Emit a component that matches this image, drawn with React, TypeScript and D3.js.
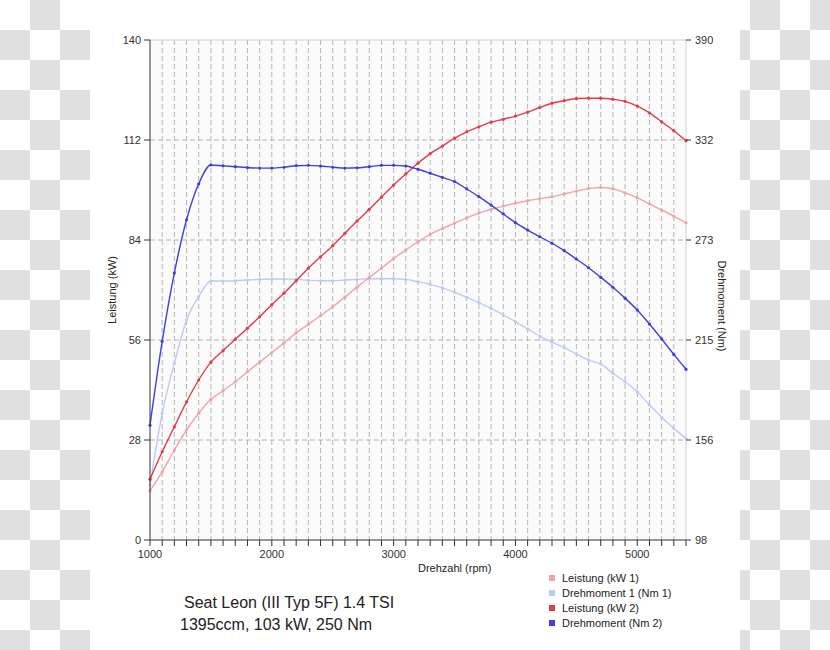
import React from "react";
import * as d3 from "d3";

const rpm = [1000,1100,1200,1300,1400,1500,1600,1700,1800,1900,2000,2100,2200,2300,2400,2500,2600,2700,2800,2900,3000,3100,3200,3300,3400,3500,3600,3700,3800,3900,4000,4100,4200,4300,4400,4500,4600,4700,4800,4900,5000,5100,5200,5300,5400];

const kw1 = [13.8,19.1,25.2,30.8,35.5,39.4,41.8,44.3,47.1,49.8,52.5,55.2,58.0,60.4,62.8,65.3,68.0,70.8,73.5,76.1,78.8,81.2,83.5,85.6,87.2,88.7,90.2,91.5,92.6,93.5,94.3,95.0,95.6,96.1,96.9,97.7,98.4,98.7,98.3,97.2,95.8,94.1,92.4,90.7,88.8];

const kw2 = [17.0,24.7,31.7,38.7,44.8,49.8,53.0,56.2,59.3,62.5,65.9,69.1,72.6,76.1,79.3,82.4,85.9,89.3,92.6,96.0,99.4,102.5,105.5,108.2,110.3,112.5,114.3,115.7,117.0,117.8,118.7,119.8,121.1,122.3,123.0,123.6,123.7,123.7,123.4,122.8,121.5,119.6,117.1,114.6,111.8];

const nm1 = [130.1,172,201.2,226.5,240.1,249.3,249.2,249.4,249.8,250.2,250.4,250.4,250.2,249.7,249.4,249.4,249.8,250.2,250.6,250.6,250.6,250.2,248.8,247.3,245.2,242.7,239.7,236.6,233.3,229.4,225.5,221.2,217.1,213.6,210.3,206.6,203.1,200.8,195.4,190.4,184.6,176.8,169.7,163.2,157.4];

const nm2 = [165,214,254,285,306,317,316.5,316,315.5,315.2,315.2,315.7,316.6,316.8,316.4,315.7,315.2,315.4,316,316.8,316.8,316.4,314.5,312.2,309.8,307.3,303.0,298.5,293.6,288.4,283.3,279.0,275.1,271.3,267.0,262.1,257.0,251.4,245.6,239.2,232.3,224.1,215.4,206.4,197.7];

const leftTicks = [0, 28, 56, 84, 112, 140];
const rightTicks = [98, 156.4, 214.8, 273.2, 331.6, 390];
const xLabelTicks = [1000, 2000, 3000, 4000, 5000];

const legendLabels = ["Leistung (kW 1)", "Drehmoment 1 (Nm 1)", "Leistung (kW 2)", "Drehmoment (Nm 2)"];
const titleLines = ["Seat Leon (III Typ 5F) 1.4 TSI", "1395ccm, 103 kW, 250 Nm"];

const COLORS = {
  kw1: "#f0a4aa",
  nm1: "#bfcaf4",
  kw2: "#e23c48",
  nm2: "#3f3fdc",
};

const FONT = "'Liberation Sans', Arial, sans-serif";

export default function App() {
  const W = 830, H = 650;
  const x = d3.scaleLinear().domain([1000, 5400]).range([150, 686]);
  const yL = d3.scaleLinear().domain([0, 140]).range([540, 40]);
  const yR = d3.scaleLinear().domain([98, 390]).range([540, 40]);
  const fmt = d3.format(".0f");

  const lineL = d3.line<number>().x((_, i) => x(rpm[i])).y((d) => yL(d)).curve(d3.curveMonotoneX);
  const lineR = d3.line<number>().x((_, i) => x(rpm[i])).y((d) => yR(d)).curve(d3.curveMonotoneX);

  const series = [
    { data: nm1, color: COLORS.nm1, axis: "R" },
    { data: kw1, color: COLORS.kw1, axis: "L" },
    { data: kw2, color: COLORS.kw2, axis: "L" },
    { data: nm2, color: COLORS.nm2, axis: "R" },
  ];

  const legendColors = [COLORS.kw1, COLORS.nm1, COLORS.kw2, COLORS.nm2];
  const minorTicks = d3.range(1000, 5401, 100);

  return (
    <svg width={W} height={H} style={{ position: "absolute", left: 0, top: 0 }} fontFamily={FONT}>
      <defs>
        <pattern id="checker" width={60} height={60} patternUnits="userSpaceOnUse">
          <rect x={0} y={0} width={60} height={60} fill="#ffffff" />
          <rect x={30} y={0} width={30} height={30} fill="#e0e0e0" />
          <rect x={0} y={30} width={30} height={30} fill="#e0e0e0" />
        </pattern>
      </defs>
      <rect x={0} y={0} width={W} height={H} fill="url(#checker)" />
      <rect x={90} y={0} width={650} height={H} fill="#ffffff" />

      {/* plot background */}
      <rect x={x(1000)} y={yL(140)} width={x(5400) - x(1000)} height={yL(0) - yL(140)} fill="#fbfbfb" />

      {/* vertical grid */}
      {minorTicks.slice(1, -1).map((r) => (
        <line key={"vg" + r} x1={x(r)} x2={x(r)} y1={yL(140)} y2={yL(0)} stroke="#b4b4b4" strokeDasharray="5,3" strokeWidth={1} />
      ))}
      {/* horizontal grid */}
      {leftTicks.slice(1, -1).map((t) => (
        <line key={"hg" + t} x1={x(1000)} x2={x(5400)} y1={yL(t)} y2={yL(t)} stroke="#b4b4b4" strokeDasharray="5,3" strokeWidth={1} />
      ))}
      {/* top and right border */}
      <line x1={x(1000)} x2={x(5400)} y1={yL(140)} y2={yL(140)} stroke="#d0d0d0" />
      <line x1={x(5400)} x2={x(5400)} y1={yL(140)} y2={yL(0)} stroke="#d0d0d0" />

      {/* series */}
      {series.map((s, si) => (
        <g key={"s" + si}>
          <path d={(s.axis === "L" ? lineL : lineR)(s.data) || ""} fill="none" stroke={s.color} strokeWidth={1.4} />
          {s.data.map((v, i) => (
            <circle key={i} cx={x(rpm[i])} cy={s.axis === "L" ? yL(v) : yR(v)} r={1.6} fill={s.color} />
          ))}
        </g>
      ))}

      {/* left axis */}
      <line x1={x(1000)} x2={x(1000)} y1={yL(140)} y2={yL(0)} stroke="#333" />
      {leftTicks.map((t) => (
        <g key={"lt" + t}>
          <line x1={x(1000) - 6} x2={x(1000)} y1={yL(t)} y2={yL(t)} stroke="#333" />
          <text x={x(1000) - 9} y={yL(t) + 4} textAnchor="end" fontSize={11} fill="#333">{fmt(t)}</text>
        </g>
      ))}
      {/* right axis */}
      {rightTicks.map((t) => (
        <g key={"rt" + t}>
          <line x1={x(5400)} x2={x(5400) + 5} y1={yR(t)} y2={yR(t)} stroke="#333" />
          <text x={x(5400) + 9} y={yR(t) + 4} textAnchor="start" fontSize={11} fill="#333">{fmt(t)}</text>
        </g>
      ))}
      {/* bottom axis */}
      <line x1={x(1000)} x2={x(5400)} y1={yL(0)} y2={yL(0)} stroke="#333" />
      {minorTicks.map((r) => (
        <line key={"bt" + r} x1={x(r)} x2={x(r)} y1={yL(0)} y2={yL(0) + 6} stroke="#333" />
      ))}
      {xLabelTicks.map((r) => (
        <text key={"bl" + r} x={x(r)} y={yL(0) + 18} textAnchor="middle" fontSize={11} fill="#333">{r}</text>
      ))}

      {/* axis titles */}
      <text x={418} y={572} fontSize={11} fill="#222">Drehzahl (rpm)</text>
      <text transform={`translate(116, ${(yL(0) + yL(140)) / 2}) rotate(-90)`} textAnchor="middle" fontSize={11} fill="#222">Leistung (kW)</text>
      <text transform={`translate(718, 306) rotate(90)`} textAnchor="middle" fontSize={11} fill="#222">Drehmoment (Nm)</text>

      {/* legend */}
      {legendLabels.map((l, i) => (
        <g key={"lg" + i}>
          <rect x={549} y={575 + i * 15} width={6} height={6} fill={legendColors[i]} />
          <text x={562} y={582 + i * 15} fontSize={11} fill="#222">{l}</text>
        </g>
      ))}

      {/* title */}
      <text x={184} y={608} fontSize={16} fill="#222">{titleLines[0]}</text>
      <text x={180} y={630} fontSize={16} fill="#222">{titleLines[1]}</text>
    </svg>
  );
}
